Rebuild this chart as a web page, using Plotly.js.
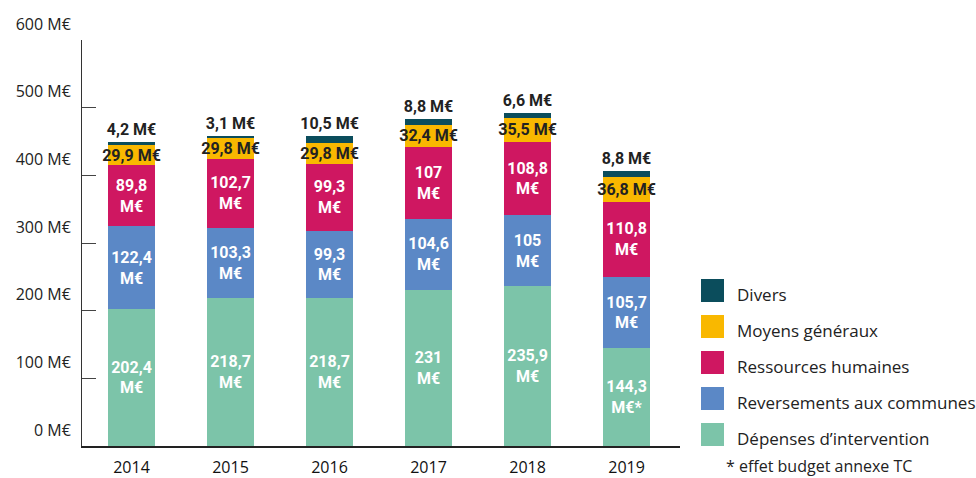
<!DOCTYPE html>
<html>
<head>
<meta charset="utf-8">
<script src="https://cdn.plot.ly/plotly-3.0.1.min.js"></script>
<style>
  html, body { margin: 0; padding: 0; background: #fff; }
  #chart { width: 976px; height: 478px; }
</style>
</head>
<body>
<div id="chart"></div>
<script>
// ---- Data ----
const years = ['2014', '2015', '2016', '2017', '2018', '2019'];
const depenses = [202.4, 218.7, 218.7, 231, 235.9, 144.3];
const reversements = [122.4, 103.3, 99.3, 104.6, 105, 105.7];
const ressources = [89.8, 102.7, 99.3, 107, 108.8, 110.8];
const moyens = [29.9, 29.8, 29.8, 32.4, 35.5, 36.8];
const divers = [4.2, 3.1, 10.5, 8.8, 6.6, 8.8];
const depensesNotes = ['', '', '', '', '', '*'];
const seriesNames = ['Dépenses d’intervention', 'Reversements aux communes', 'Ressources humaines', 'Moyens généraux', 'Divers'];
const yTickVals = [0, 100, 200, 300, 400, 500, 600];
const yTickText = ['0 M€', '100 M€', '200 M€', '300 M€', '400 M€', '500 M€', '600 M€'];
const footnote = '* effet budget annexe TC';

// ---- Layout helpers ----
const W = 976, H = 478;
const M = { l: 82, r: 296, t: 40, b: 32 };
const PW = W - M.l - M.r, PH = H - M.t - M.b;
const px2x = p => (p - M.l) / PW;
const px2y = p => (H - M.b - p) / PH;

const fmt = v => String(v).replace('.', ',');
const labelFont = { family: 'Liberation Sans Narrow, Roboto, sans-serif', size: 16, weight: 700 };
const colors = ['#7cc4a9', '#5b88c6', '#cf1761', '#f9b800', '#0b4d5c'];

function barTrace(name, vals, color, texts, textColor, pos) {
  return {
    type: 'bar', name: name, x: years, y: vals,
    marker: { color: color, line: { width: 0 } },
    text: texts, textposition: pos, textangle: 0,
    insidetextanchor: 'middle', constraintext: 'none',
    textfont: Object.assign({ color: textColor }, labelFont),
    hoverinfo: 'name+y', showlegend: false
  };
}

const traces = [
  barTrace(seriesNames[0], depenses, colors[0], depenses.map((v, i) => fmt(v) + '<br>M€' + depensesNotes[i]), '#ffffff', 'inside'),
  barTrace(seriesNames[1], reversements, colors[1], reversements.map(v => fmt(v) + '<br>M€'), '#ffffff', 'inside'),
  barTrace(seriesNames[2], ressources, colors[2], ressources.map(v => fmt(v) + '<br>M€'), '#ffffff', 'inside'),
  barTrace(seriesNames[3], moyens, colors[3], moyens.map(v => fmt(v) + ' M€'), '#222222', 'inside'),
  barTrace(seriesNames[4], divers, colors[4], divers.map(v => fmt(v) + ' M€'), '#222222', 'outside')
];

// Manual legend (large swatches) in paper coordinates
const legendTop = 279, legendStep = 36, sw = 23;
const shapes = [], annotations = [];
for (let k = 0; k < 5; k++) {
  const idx = 4 - k;
  const y0 = legendTop + k * legendStep;
  shapes.push({
    type: 'rect', xref: 'paper', yref: 'paper',
    x0: px2x(701), x1: px2x(701 + sw), y0: px2y(y0 + sw), y1: px2y(y0),
    fillcolor: colors[idx], line: { width: 0 }
  });
  annotations.push({
    xref: 'paper', yref: 'paper', x: px2x(735), y: px2y(y0 + sw / 2 + 4),
    xanchor: 'left', yanchor: 'middle', showarrow: false,
    text: seriesNames[idx], font: { family: 'Open Sans, sans-serif', size: 17, color: '#222' }
  });
}
annotations.push({
  xref: 'paper', yref: 'paper', x: px2x(724), y: px2y(466),
  xanchor: 'left', yanchor: 'middle', showarrow: false,
  text: footnote, font: { family: 'Open Sans, sans-serif', size: 16, color: '#222' }
});

const layout = {
  width: W, height: H,
  margin: M,
  paper_bgcolor: '#ffffff', plot_bgcolor: '#ffffff',
  barmode: 'stack', bargap: 0.53,
  showlegend: false,
  font: { family: 'Open Sans, sans-serif', color: '#222' },
  xaxis: {
    type: 'category', range: [-0.5, 5.54],
    showline: true, linecolor: '#222', linewidth: 1.5,
    ticks: '', showgrid: false, zeroline: false,
    ticklabelstandoff: 6,
    tickfont: { family: 'Open Sans, sans-serif', size: 16, color: '#111' }
  },
  yaxis: {
    range: [0, 600], tickmode: 'array', tickvals: yTickVals, ticktext: yTickText,
    showline: true, linecolor: '#333', linewidth: 1,
    ticks: 'inside', ticklen: 14, tickcolor: '#444', tickwidth: 1,
    showgrid: false, zeroline: false,
    ticklabelshift: -16, ticklabelstandoff: 7,
    tickfont: { family: 'Open Sans, sans-serif', size: 16, color: '#222' }
  },
  shapes: shapes,
  annotations: annotations
};

Plotly.newPlot('chart', traces, layout, { displayModeBar: false, staticPlot: true });
</script>
</body>
</html>
